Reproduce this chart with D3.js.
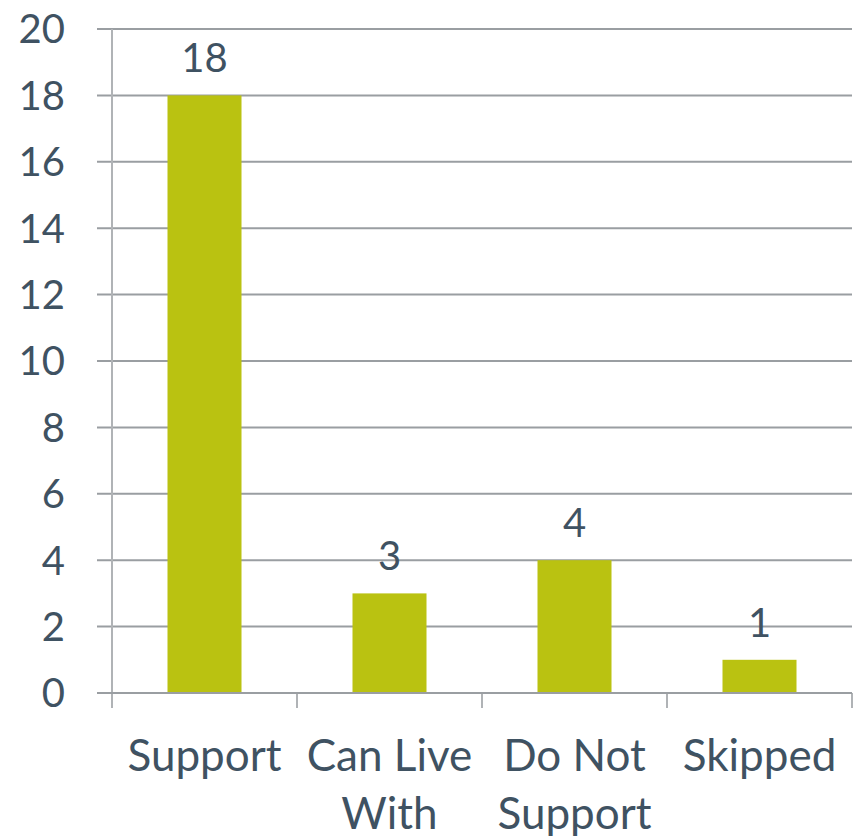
<!DOCTYPE html>
<html>
<head>
<meta charset="utf-8">
<script src="https://cdn.jsdelivr.net/npm/d3@7"></script>
<style>
  body { margin: 0; background: #fff; }
  text { font-family: Lato, "Open Sans", sans-serif; fill: #3f5262; }
</style>
</head>
<body>
<div id="chart-area"></div>
<script>
// data
const categories = ["Support", "Can Live With", "Do Not Support", "Skipped"];
const labelLines = [["Support"], ["Can Live", "With"], ["Do Not", "Support"], ["Skipped"]];
const counts = [18, 3, 4, 1];
const yTicks = [0, 2, 4, 6, 8, 10, 12, 14, 16, 18, 20];

const margin = {left: 112, right: 6, top: 29, bottom: 143};
const width = 858 - margin.left - margin.right;
const height = 836 - margin.top - margin.bottom;

let svg = d3.select("#chart-area")
  .append("svg")
  .attr("width", 858)
  .attr("height", 836)
  .append("g")
  .attr("transform", `translate(${margin.left}, ${margin.top})`);

//x scale
let x = d3.scaleBand()
  .domain(categories)
  .range([0, width])
  .paddingInner(0.6)
  .paddingOuter(0.3);

//y scale
let y = d3.scaleLinear()
  .domain([0, 20])
  .range([height, 0]);

// gridlines
svg.append("g")
  .selectAll("line")
  .data(yTicks)
  .enter().append("line")
  .attr("x1", -15)
  .attr("x2", width)
  .attr("y1", d => y(d))
  .attr("y2", d => y(d))
  .attr("stroke", "#9a9ea2")
  .attr("stroke-width", 2);

// y axis line
svg.append("line")
  .attr("x1", 0).attr("x2", 0)
  .attr("y1", 0).attr("y2", height + 15)
  .attr("stroke", "#b0b3b6")
  .attr("stroke-width", 2);

// x ticks between categories
const step = x.step();
svg.append("g")
  .selectAll("line")
  .data(d3.range(categories.length + 1))
  .enter().append("line")
  .attr("x1", i => i * step)
  .attr("x2", i => i * step)
  .attr("y1", height)
  .attr("y2", height + 15)
  .attr("stroke", "#b0b3b6")
  .attr("stroke-width", 2);

// bars
svg.selectAll("rect")
  .data(counts)
  .enter().append("rect")
  .attr("x", (d, i) => x(categories[i]))
  .attr("y", d => y(d))
  .attr("width", x.bandwidth())
  .attr("height", d => height - y(d))
  .attr("fill", "#bac211");

// baseline over bars
svg.append("line")
  .attr("x1", -15).attr("x2", width)
  .attr("y1", height).attr("y2", height)
  .attr("stroke", "#9a9ea2")
  .attr("stroke-width", 2);

// value labels
svg.selectAll(".val")
  .data(counts)
  .enter().append("text")
  .attr("class", "val")
  .attr("x", (d, i) => x(categories[i]) + x.bandwidth() / 2)
  .attr("y", d => y(d) - 23)
  .attr("text-anchor", "middle")
  .attr("font-size", "40px")
  .text(d => d);

// y tick labels
svg.selectAll(".ytick")
  .data(yTicks)
  .enter().append("text")
  .attr("class", "ytick")
  .attr("x", -47)
  .attr("y", d => y(d))
  .attr("dy", "0.36em")
  .attr("text-anchor", "end")
  .attr("font-size", "40px")
  .text(d => d);

// x labels
labelLines.forEach((lines, i) => {
  let t = svg.append("text")
    .attr("x", x(categories[i]) + x.bandwidth() / 2)
    .attr("y", height + 78)
    .attr("text-anchor", "middle")
    .attr("font-size", "44px");
  lines.forEach((ln, j) => {
    t.append("tspan")
      .attr("x", x(categories[i]) + x.bandwidth() / 2)
      .attr("dy", j === 0 ? 0 : 58)
      .text(ln);
  });
});
</script>
</body>
</html>
